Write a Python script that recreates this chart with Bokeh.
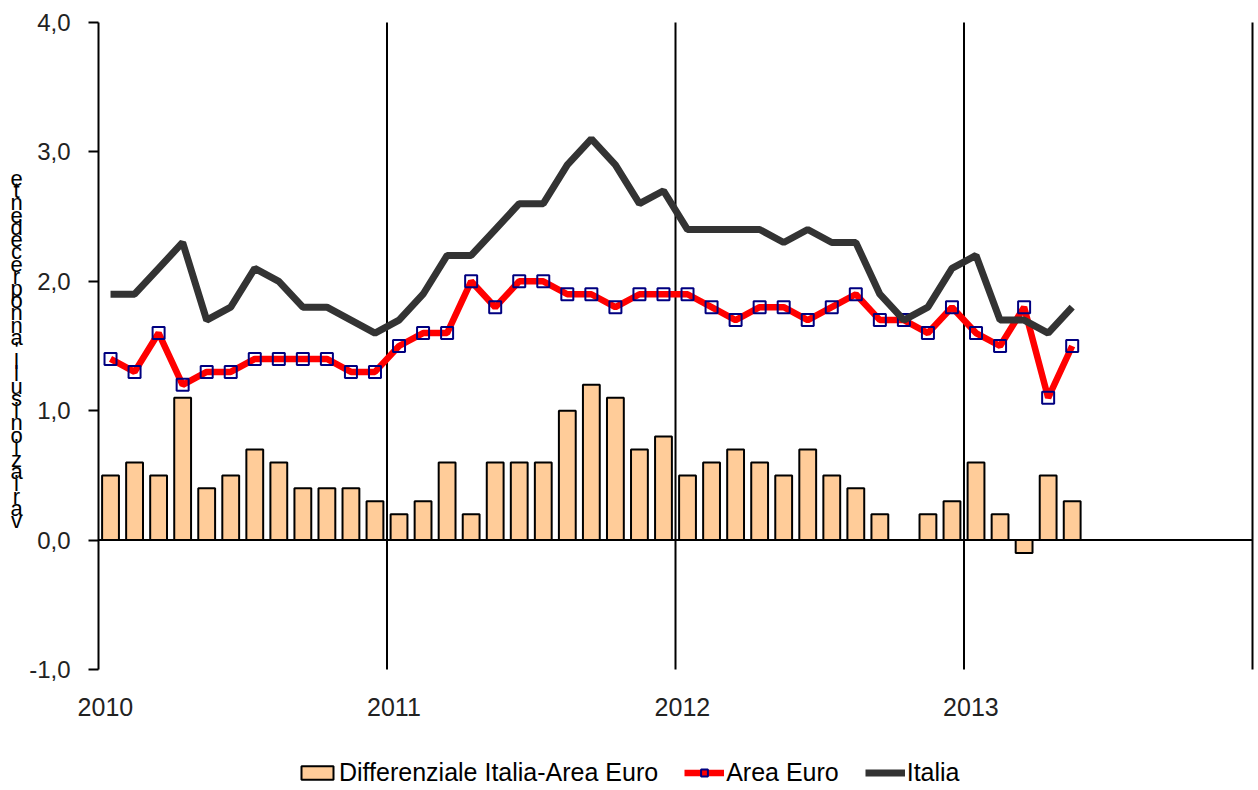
from bokeh.plotting import figure
from bokeh.models import (FixedTicker, Legend, LegendItem, Label, ColumnDataSource)
from bokeh.embed import file_html
from bokeh.resources import INLINE

# ---- data (monthly, Jan 2010 - May 2013) ----
start_year = 2010
euro = [1.4, 1.3, 1.6, 1.2, 1.3, 1.3, 1.4, 1.4, 1.4, 1.4, 1.3, 1.3,
        1.5, 1.6, 1.6, 2.0, 1.8, 2.0, 2.0, 1.9, 1.9, 1.8, 1.9, 1.9,
        1.9, 1.8, 1.7, 1.8, 1.8, 1.7, 1.8, 1.9, 1.7, 1.7, 1.6, 1.8,
        1.6, 1.5, 1.8, 1.1, 1.5]
italia = [1.9, 1.9, 2.1, 2.3, 1.7, 1.8, 2.1, 2.0, 1.8, 1.8, 1.7, 1.6,
          1.7, 1.9, 2.2, 2.2, 2.4, 2.6, 2.6, 2.9, 3.1, 2.9, 2.6, 2.7,
          2.4, 2.4, 2.4, 2.4, 2.3, 2.4, 2.3, 2.3, 1.9, 1.7, 1.8, 2.1,
          2.2, 1.7, 1.7, 1.6, 1.8]
diff = [0.5, 0.6, 0.5, 1.1, 0.4, 0.5, 0.7, 0.6, 0.4, 0.4, 0.4, 0.3,
        0.2, 0.3, 0.6, 0.2, 0.6, 0.6, 0.6, 1.0, 1.2, 1.1, 0.7, 0.8,
        0.5, 0.6, 0.7, 0.6, 0.5, 0.7, 0.5, 0.4, 0.2, 0.0, 0.2, 0.3,
        0.6, 0.2, -0.1, 0.5, 0.3]
years = [2010, 2011, 2012, 2013, 2014]
year_labels = ["2010", "2011", "2012", "2013"]
y_ticks = [-1, 0, 1, 2, 3, 4]
y_tick_labels = ["-1,0", "0,0", "1,0", "2,0", "3,0", "4,0"]
series_names = ["Differenziale Italia-Area Euro", "Area Euro", "Italia"]
y_title = "variazioni sull'anno precedente"

x = [start_year + (i + 0.5) / 12 for i in range(len(euro))]
src = ColumnDataSource(dict(x=x, euro=euro, italia=italia, diff=diff))

FONT = "Liberation Sans"

W, H = 1258, 790
# plot area (pixels) inside the canvas
L, R, T, B = 98, 1252, 22, 669
xmin, xmax = years[0], years[-1]
ymin, ymax = y_ticks[0], y_ticks[-1]
xs = (R - L) / (xmax - xmin)
ys = (B - T) / (ymax - ymin)
x_range = (xmin - L / xs, xmax + (W - R) / xs)
y_range = (ymin - (H - B) / ys, ymax + T / ys)

p = figure(width=W, height=H, x_range=x_range, y_range=y_range,
           output_backend="svg", toolbar_location=None,
           min_border=0, min_border_left=0, min_border_right=0,
           min_border_top=0, min_border_bottom=0)
p.outline_line_color = None
p.background_fill_color = "white"
p.border_fill_color = "white"
p.xgrid.visible = False
p.ygrid.visible = False

# y axis at x = 2010
p.yaxis.fixed_location = xmin
p.yaxis.bounds = (ymin, ymax)
p.yaxis.ticker = FixedTicker(ticks=y_ticks)
p.yaxis.major_label_overrides = {t: l for t, l in zip(y_ticks, y_tick_labels)}
p.yaxis.axis_line_color = "black"
p.yaxis.axis_line_width = 2
p.yaxis.major_tick_line_width = 2
p.yaxis.major_tick_out = 10
p.yaxis.major_tick_in = 0
p.yaxis.minor_tick_line_color = None
p.yaxis.major_label_text_font = FONT
p.yaxis.major_label_text_font_size = "24px"
p.yaxis.major_label_text_color = "#222222"
p.yaxis.major_label_standoff = 18

# x axis: labels only, under y = -1
xt = [y + 0.024 for y in years[:-1]]
p.xaxis.fixed_location = ymin
p.xaxis.bounds = (xmin, xmax)
p.xaxis.ticker = FixedTicker(ticks=xt)
p.xaxis.major_label_overrides = {t: l for t, l in zip(xt, year_labels)}
p.xaxis.axis_line_color = None
p.xaxis.major_tick_line_color = None
p.xaxis.minor_tick_line_color = None
p.xaxis.major_label_text_font = FONT
p.xaxis.major_label_text_font_size = "25px"
p.xaxis.major_label_text_color = "#222222"
p.xaxis.major_label_standoff = 22

# year separators and zero line
p.segment(x0=years[1:], y0=[ymin] * 4, x1=years[1:], y1=[ymax] * 4,
          line_color="black", line_width=2)
p.segment(x0=[xmin], y0=[0], x1=[xmax], y1=[0], line_color="black", line_width=2)

bars = p.vbar(x="x", top="diff", bottom=0, width=0.7 / 12, source=src,
              fill_color="#FFCC99", line_color="black", line_width=2)
eline = p.line("x", "euro", source=src, line_color="#FF0000", line_width=6.5)
emark = p.scatter("x", "euro", source=src, marker="square", size=12,
                  fill_color=None, line_color="#000080", line_width=2)
iline = p.line("x", "italia", source=src, line_color="#333333", line_width=7)

legend = Legend(items=[
    LegendItem(label=series_names[0], renderers=[bars]),
    LegendItem(label=series_names[1], renderers=[eline, emark]),
    LegendItem(label=series_names[2], renderers=[iline]),
], orientation="horizontal", location=(297, 3),
    label_text_font=FONT, label_text_font_size="25px", label_text_color="black",
    glyph_width=40, glyph_height=17, label_standoff=2, spacing=26,
    border_line_color=None, background_fill_alpha=0, padding=0, margin=0)
p.add_layout(legend, "center")

# stacked vertical y title (characters stacked top to bottom)
chars = [c for c in y_title if c != " "][::-1]
step = 342 / (len(chars) - 1)
for k, ch in enumerate(chars):
    p.add_layout(Label(x=16, y=H - 178 - k * step, x_units="screen", y_units="screen",
                       text=ch, text_font=FONT, text_font_size="22px",
                       text_align="center", text_baseline="middle", text_color="black"))

open("out.html", "w").write(file_html(p, INLINE))
